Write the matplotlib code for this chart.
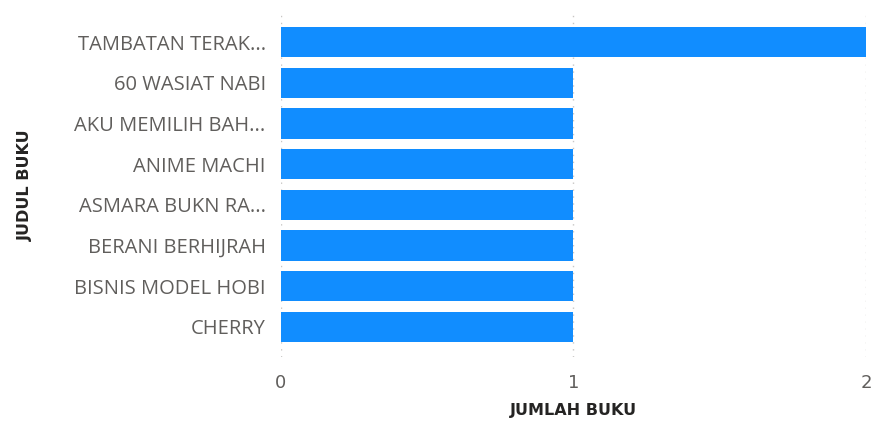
import matplotlib
matplotlib.use("Agg")
import matplotlib.pyplot as plt

# data
judul = ["TAMBATAN TERAK...", "60 WASIAT NABI", "AKU MEMILIH BAH...", "ANIME MACHI",
         "ASMARA BUKN RA...", "BERANI BERHIJRAH", "BISNIS MODEL HOBI", "CHERRY"]
jumlah = [2, 1, 1, 1, 1, 1, 1, 1]
x_ticks = [0, 1, 2]

fig = plt.figure(figsize=(8.75, 4.21), dpi=100)
ax = fig.add_axes([0.3211, 0.152, 0.6686, 0.8147])

ypos = list(range(len(judul)))
ax.barh(ypos, jumlah, height=0.74, color="#118DFF", zorder=3)

ax.set_xlim(0, 2)
ax.set_ylim(7.74, -0.69)
ax.set_yticks(ypos)
ax.set_yticklabels(judul, fontsize=14.5, color="#605E5C", family="Open Sans")
ax.set_xticks(x_ticks)
ax.set_xticklabels([str(t) for t in x_ticks], fontsize=13, color="#605E5C", family="DejaVu Sans")

ax.tick_params(axis="both", length=0)
ax.tick_params(axis="y", pad=11)
ax.tick_params(axis="x", pad=12)

ax.grid(axis="x", color="#C8C6C4", linestyle=(0, (1, 4)), linewidth=1, zorder=0)
for s in ax.spines.values():
    s.set_visible(False)

ax.set_xlabel("JUMLAH BUKU", fontsize=11.5, color="#252423", fontweight="bold",
              family=["Liberation Sans Narrow", "DejaVu Sans"], labelpad=8)
ax.set_ylabel("JUDUL BUKU", fontsize=11.5, color="#252423", fontweight="bold",
              family=["Liberation Sans Narrow", "DejaVu Sans"], labelpad=30)

fig.savefig("out.png", dpi=100)
